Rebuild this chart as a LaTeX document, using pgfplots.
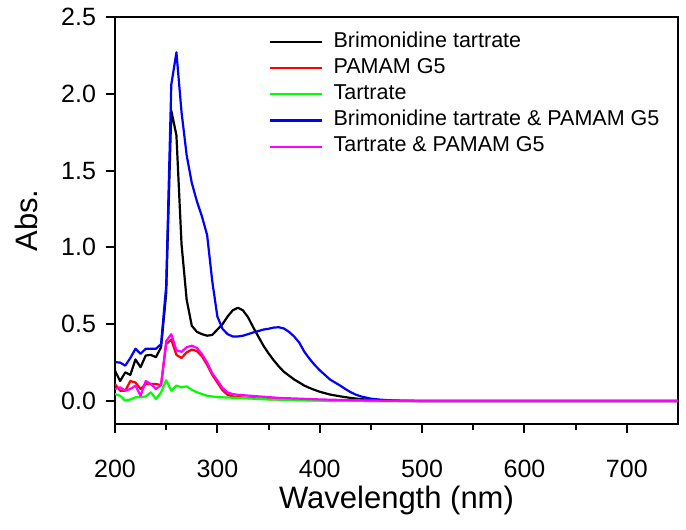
\documentclass[border=0pt]{standalone}
\usepackage{fontspec}
\setmainfont{Liberation Sans}
\usepackage{pgfplots}
\pgfplotsset{compat=1.18}
\definecolor{mag}{RGB}{255,0,255}
\definecolor{grn}{RGB}{0,255,0}
\definecolor{blu}{RGB}{0,0,255}
\definecolor{rd}{RGB}{255,0,0}
\begin{document}
\begin{tikzpicture}
\begin{axis}[
  scale only axis,
  width=281.5pt, height=203.5pt,
  xmin=200, xmax=750, ymin=-0.15, ymax=2.5,
  xtick={200,300,400,500,600,700},
  minor x tick num=1,
  ytick={0,0.5,1,1.5,2,2.5},
  y tick label style={/pgf/number format/fixed, /pgf/number format/fixed zerofill, /pgf/number format/precision=1},
  /pgf/number format/assume math mode=true,
  tick align=outside,
  xtick pos=bottom, ytick pos=left,
  major tick length=4.5pt, minor tick length=2.75pt,
  every tick/.style={black, line width=1pt},
  axis line style={line width=1.2pt},
  tick label style={font=\fontsize{12.5}{15}\selectfont},
  x tick label style={/tikz/yshift=-10pt},
  y tick label style={/tikz/xshift=-1.5pt},
  xlabel={Wavelength (nm)},
  ylabel={Abs.},
  every axis x label/.style={at={(axis description cs:0.5,-0.189)}, anchor=center, font=\fontsize{15.5}{18}\selectfont},
  every axis y label/.style={at={(axis description cs:-0.157,0.5)}, anchor=center, rotate=90, font=\fontsize{15.5}{18}\selectfont},
  legend cell align=left,
  legend style={draw=none, fill=none, at={(axis description cs:0.2735,0.972)}, anchor=north west,
    inner sep=0pt, row sep=0pt, column sep=4pt,
    font=\fontsize{10.75}{12}\selectfont,
    nodes={inner xsep=1pt, inner ysep=1.95pt, text height=0.72em, text depth=0.2em}},
  legend image code/.code={\draw[#1] (0pt,0pt) -- (26pt,0pt);},
  every axis plot/.append style={line width=1.1pt, line join=round},
]
\addplot[black] coordinates {
(200,0.197)(205,0.13)(210,0.186)(215,0.17)(220,0.27)(225,0.22)(230,0.296)(235,0.30)(240,0.285)(245,0.35)
(250,0.70)(255,1.89)(260,1.73)(265,1.02)(270,0.66)(275,0.49)(280,0.45)(285,0.435)(290,0.425)(295,0.43)
(300,0.465)(305,0.50)(310,0.55)(315,0.59)(320,0.607)(325,0.59)(330,0.545)(335,0.48)(340,0.42)(345,0.36)
(350,0.31)(355,0.265)(360,0.225)(365,0.19)(370,0.165)(375,0.14)(380,0.12)(385,0.10)(390,0.085)(395,0.072)
(400,0.06)(410,0.042)(420,0.03)(430,0.02)(440,0.012)(450,0.007)(460,0.003)(480,0.0)(500,0)(600,0)(750,0)};
\addlegendentry{Brimonidine tartrate}
\addplot[rd] coordinates {
(200,0.11)(205,0.067)(210,0.067)(215,0.13)(220,0.12)(225,0.078)(230,0.11)(235,0.11)(240,0.11)(245,0.104)
(250,0.37)(255,0.40)(260,0.30)(265,0.28)(270,0.316)(275,0.335)(280,0.325)(285,0.29)(290,0.235)(295,0.17)
(300,0.12)(305,0.07)(310,0.04)(315,0.03)(320,0.025)(330,0.02)(350,0.012)(380,0.006)(420,0.002)(450,0)(600,0)(750,0)};
\addlegendentry{PAMAM G5}
\addplot[grn] coordinates {
(200,0.045)(205,0.034)(210,0.002)(215,0.01)(220,0.024)(225,0.024)(230,0.03)(235,0.056)(240,0.013)(245,0.056)
(250,0.135)(255,0.067)(260,0.10)(265,0.089)(270,0.095)(275,0.073)(280,0.056)(285,0.045)(290,0.034)(300,0.025)
(320,0.02)(350,0.01)(400,0.003)(450,0)(600,0)(750,0)};
\addlegendentry{Tartrate}
\addplot[blu] coordinates {
(200,0.253)(205,0.25)(210,0.23)(215,0.28)(220,0.34)(225,0.307)(230,0.34)(235,0.34)(240,0.34)(245,0.37)
(250,0.75)(255,2.06)(260,2.27)(265,1.88)(270,1.6)(275,1.42)(280,1.3)(285,1.2)(290,1.08)(295,0.78)
(300,0.55)(305,0.47)(310,0.435)(315,0.42)(320,0.42)(325,0.425)(330,0.435)(335,0.446)(340,0.455)(345,0.465)
(350,0.47)(355,0.478)(360,0.48)(365,0.472)(370,0.45)(375,0.42)(380,0.38)(385,0.32)(390,0.275)(395,0.235)
(400,0.20)(405,0.17)(410,0.14)(415,0.12)(420,0.10)(425,0.078)(430,0.058)(435,0.042)(440,0.03)(450,0.015)
(460,0.008)(470,0.004)(480,0.002)(500,0)(600,0)(750,0)};
\addlegendentry{Brimonidine tartrate \& PAMAM G5}
\addplot[mag] coordinates {
(200,0.078)(205,0.089)(210,0.067)(215,0.078)(220,0.10)(225,0.034)(230,0.13)(235,0.11)(240,0.078)(245,0.104)
(250,0.39)(255,0.435)(260,0.33)(265,0.32)(270,0.35)(275,0.36)(280,0.345)(285,0.305)(290,0.25)(295,0.18)
(300,0.135)(305,0.085)(310,0.055)(315,0.045)(320,0.04)(330,0.035)(340,0.03)(360,0.02)(380,0.015)(400,0.01)
(430,0.005)(460,0.002)(500,0)(600,0)(750,0)};
\addlegendentry{Tartrate \& PAMAM G5}
\end{axis}
\pgfresetboundingbox
\path ([shift={(-57.5pt,-52.5pt)}]current axis.south west) rectangle ([shift={(4pt,8.5pt)}]current axis.north east);
\end{tikzpicture}
\end{document}
